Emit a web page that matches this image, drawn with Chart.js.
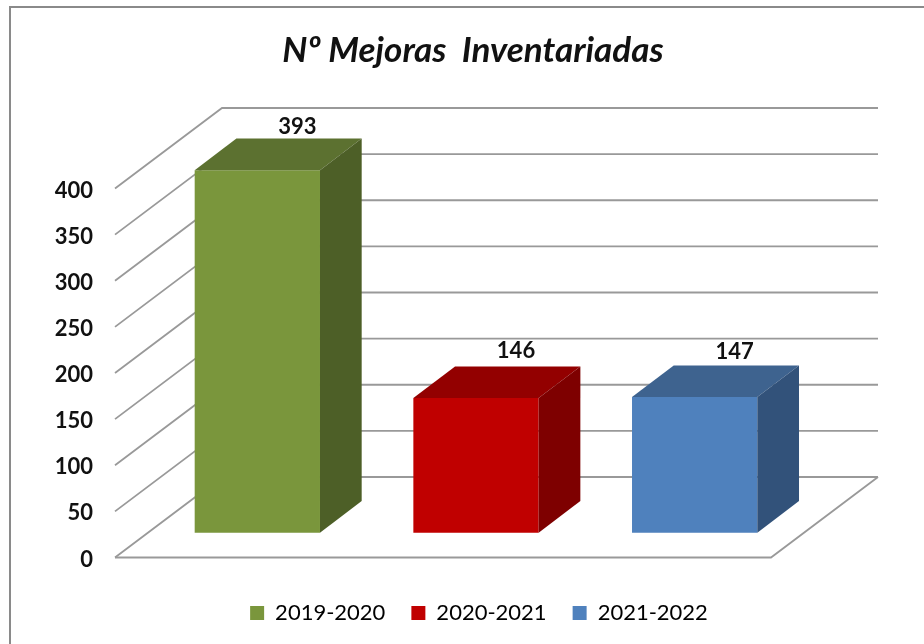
<!DOCTYPE html>
<html>
<head>
<meta charset="utf-8">
<title>Mejoras Inventariadas</title>
<script src="https://cdn.jsdelivr.net/npm/chart.js@4"></script>
<style>
html, body { margin: 0; padding: 0; background: #fff; }
canvas { display: block; }
</style>
</head>
<body>
<canvas id="chart" width="924" height="644"></canvas>
<script>
const cursos = ["2019-2020", "2020-2021", "2021-2022"]
const mejoras = [393, 146, 147]
const frontColors = ["#7a963c", "#c00000", "#4f81bd"]
const topColors = ["#5c7130", "#930000", "#3e638f"]
const sideColors = ["#4d5f27", "#7e0000", "#32527a"]
const yMax = 400
const yStep = 50

const gridColor = "#999999"
// floor depth of the fake 3d box, bars sit part way in
const wallDx = 107, wallDy = 80.5
const barDx = 33, barDy = 24.8
const barDepthX = 41.7, barDepthY = 31.6
// value labels do not sit at the same height over each bar
const labelLift = [43, 47, 45]

const fake3d = {
    id: "fake3d",
    afterLayout(chart) {
        // legend sits a bit right of the title in the original
        chart.legend.left += 6
        chart.legend.right += 6
    },
    beforeDraw(chart) {
        const ctx = chart.ctx
        ctx.save()
        ctx.strokeStyle = "#8a8a8a"
        ctx.lineWidth = 2
        ctx.beginPath()
        ctx.moveTo(10, 644)
        ctx.lineTo(10, 7)
        ctx.lineTo(924, 7)
        ctx.stroke()
        ctx.restore()
    },
    beforeDatasetsDraw(chart) {
        const ctx = chart.ctx
        const { left, right } = chart.chartArea
        const y = chart.scales.y
        ctx.save()
        ctx.strokeStyle = gridColor
        ctx.lineWidth = 1.8
        y.ticks.forEach(t => {
            const py = y.getPixelForValue(t.value)
            ctx.beginPath()
            ctx.moveTo(left, py)
            ctx.lineTo(left + wallDx, py - wallDy)
            ctx.lineTo(right + wallDx, py - wallDy)
            ctx.stroke()
        })
        const py0 = y.getPixelForValue(0)
        ctx.beginPath()
        ctx.moveTo(left, py0)
        ctx.lineTo(right, py0)
        ctx.lineTo(right + wallDx, py0 - wallDy)
        ctx.stroke()
        ctx.restore()

        // bars are pushed back into the floor
        ctx.save()
        ctx.translate(barDx, -barDy)
    },
    afterDatasetsDraw(chart) {
        const ctx = chart.ctx
        chart.getDatasetMeta(0).data.forEach((bar, i) => {
            const x1 = bar.x - bar.width / 2
            const x2 = bar.x + bar.width / 2
            ctx.fillStyle = topColors[i]
            ctx.beginPath()
            ctx.moveTo(x1, bar.y)
            ctx.lineTo(x1 + barDepthX, bar.y - barDepthY)
            ctx.lineTo(x2 + barDepthX, bar.y - barDepthY)
            ctx.lineTo(x2, bar.y)
            ctx.closePath()
            ctx.fill()
            ctx.fillStyle = sideColors[i]
            ctx.beginPath()
            ctx.moveTo(x2, bar.y)
            ctx.lineTo(x2 + barDepthX, bar.y - barDepthY)
            ctx.lineTo(x2 + barDepthX, bar.base - barDepthY)
            ctx.lineTo(x2, bar.base)
            ctx.closePath()
            ctx.fill()
            ctx.fillStyle = "#111"
            ctx.font = "bold 22px Lato"
            ctx.textAlign = "center"
            ctx.textBaseline = "middle"
            ctx.fillText(mejoras[i], bar.x + 40, bar.y - labelLift[i])
        })
        ctx.restore()
    }
}

const chart = new Chart(document.getElementById("chart"), {
    type: "bar",
    data: {
        labels: cursos,
        datasets: [
            {
                label: "Mejoras",
                data: mejoras,
                backgroundColor: frontColors,
                borderWidth: 0,
                barPercentage: 0.573,
                categoryPercentage: 1,
                clip: false,
            },
        ],
    },
    options: {
        responsive: false,
        animation: false,
        layout: { padding: { top: 30, left: 22, right: 0, bottom: 10 } },
        scales: {
            x: {
                display: true,
                grid: { display: false },
                border: { display: false },
                ticks: { display: false },
                afterFit(scale) { scale.height = 18.5 },
            },
            y: {
                min: 0,
                max: yMax,
                grid: { display: false, drawTicks: false },
                border: { display: false },
                ticks: {
                    stepSize: yStep,
                    padding: 22,
                    labelOffset: 2,
                    color: "#111",
                    font: { family: "Lato", size: 22, weight: "bold" },
                },
                afterFit(scale) { scale.width = 93 },
            },
            // empty axis, only keeps the room for the depth on the right
            depth: {
                position: "right",
                grid: { display: false, drawTicks: false },
                border: { display: false },
                ticks: { display: false },
                afterFit(scale) { scale.width = 153 },
            },
        },
        plugins: {
            title: {
                display: true,
                text: "Nº Mejoras  Inventariadas",
                color: "#111",
                font: { family: "Lato", size: 35, weight: "bold", style: "italic" },
                padding: { top: 0, bottom: 116.5 },
            },
            legend: {
                position: "bottom",
                labels: {
                    boxWidth: 14,
                    boxHeight: 14,
                    padding: 26,
                    color: "#222",
                    font: { family: "Lato", size: 22 },
                    generateLabels() {
                        return cursos.map((c, i) => ({
                            text: c,
                            fillStyle: frontColors[i],
                            strokeStyle: frontColors[i],
                            lineWidth: 0,
                            index: i,
                        }))
                    },
                },
            },
            tooltip: { enabled: false },
        },
    },
    plugins: [fake3d],
})
</script>
</body>
</html>
